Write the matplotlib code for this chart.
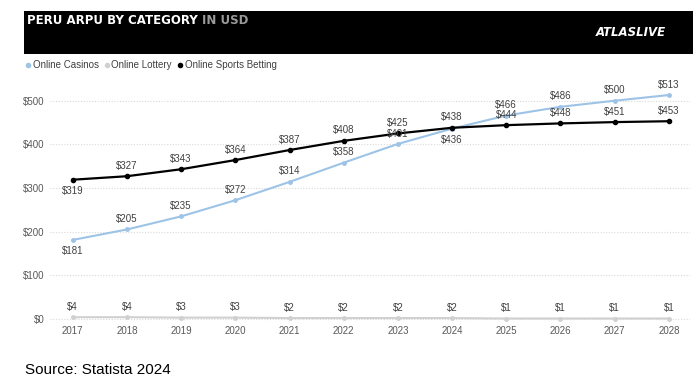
import matplotlib
matplotlib.use("Agg")
import matplotlib.pyplot as plt
from matplotlib.patches import Rectangle
from matplotlib.lines import Line2D

plt.rcParams['font.family'] = ['Liberation Sans', 'DejaVu Sans']

years = ['2017', '2018', '2019', '2020', '2021', '2022', '2023', '2024', '2025', '2026', '2027', '2028']
casinos = [181, 205, 235, 272, 314, 358, 401, 436, 466, 486, 500, 513]
lottery = [4, 4, 3, 3, 2, 2, 2, 2, 1, 1, 1, 1]
sports = [319, 327, 343, 364, 387, 408, 425, 438, 444, 448, 451, 453]
yticks = [0, 100, 200, 300, 400, 500]

c_cas = '#9DC3E6'
c_lot = '#D0D0D0'
c_spo = '#000000'
lab_col = '#404040'

fig = plt.figure(figsize=(7, 3.9), dpi=100)

# banner
fig.patches.append(Rectangle((24/700, 1-54/390), (693-24)/700, (54-11)/390,
                             transform=fig.transFigure, facecolor='black', edgecolor='none', zorder=0))
fig.text(27/700, 1-21/390, 'PERU ARPU BY CATEGORY', color='white', fontsize=8.5,
         fontweight='bold', va='center', ha='left', family=['DejaVu Sans'])
fig.canvas.draw()
bb = fig.texts[0].get_window_extent()
fig.text(bb.x1/700 + 4/700, 1-21/390, 'IN USD', color='#9a9a9a', fontsize=8.5,
         fontweight='bold', va='center', ha='left', family=['DejaVu Sans'])
fig.text(631/700, 1-33/390, 'ATLASLIVE', color='white', fontsize=8.5, fontweight='bold',
         fontstyle='italic', va='center', ha='center', family=['DejaVu Sans'])

# legend
handles = [Line2D([], [], marker='o', color='none', markerfacecolor=c_cas, markeredgecolor='none', markersize=4),
           Line2D([], [], marker='o', color='none', markerfacecolor=c_lot, markeredgecolor='none', markersize=4),
           Line2D([], [], marker='o', color='none', markerfacecolor=c_spo, markeredgecolor='none', markersize=4)]
fig.legend(handles, ['Online Casinos', 'Online Lottery', 'Online Sports Betting'],
           loc='center left', bbox_to_anchor=(24/700, 1-65/390), ncol=3, frameon=False,
           fontsize=7, handletextpad=0.1, columnspacing=0.4, handlelength=0.8,
           labelcolor='#404040', borderaxespad=0, borderpad=0)

ax = fig.add_axes([50/700, (390-322)/390, 640/700, (322-89.8)/390])
x = list(range(len(years)))
ax.plot(x, lottery, color=c_lot, lw=1.5, marker='o', ms=2.5, zorder=2)
ax.plot(x, casinos, color=c_cas, lw=1.5, marker='o', ms=2.5, zorder=3)
ax.plot(x, sports, color=c_spo, lw=1.6, marker='o', ms=3, zorder=4)

ax.set_xlim(-0.42, 11.39)
ax.set_ylim(-7, 525)
ax.set_yticks(yticks)
ax.set_yticklabels(['$' + str(v) for v in yticks])
ax.set_xticks(x)
ax.set_xticklabels(years)
ax.tick_params(length=0, labelsize=7, labelcolor='#595959', pad=3)
ax.tick_params(axis='y', pad=4)
for s in ax.spines.values():
    s.set_visible(False)
ax.yaxis.grid(True, color='#d9d9d9', linestyle=(0, (1, 1.5)), lw=0.8)
ax.set_axisbelow(True)

def lab(xi, v, above):
    off = 7.5 if above else -8
    ax.annotate('$' + str(v), (xi, v), xytext=(0, off), textcoords='offset points',
                ha='center', va='center', fontsize=7, color=lab_col, zorder=6)

for i, v in enumerate(sports):
    lab(i, v, i != 0)
for i, v in enumerate(casinos):
    lab(i, v, not (i == 0 or i == 7))
for i, v in enumerate(lottery):
    lab(i, v, True)

fig.text(25/700, 1-370/390, 'Source: Statista 2024', fontsize=11, color='black', va='center', ha='left')

fig.savefig('out.png', dpi=100)
